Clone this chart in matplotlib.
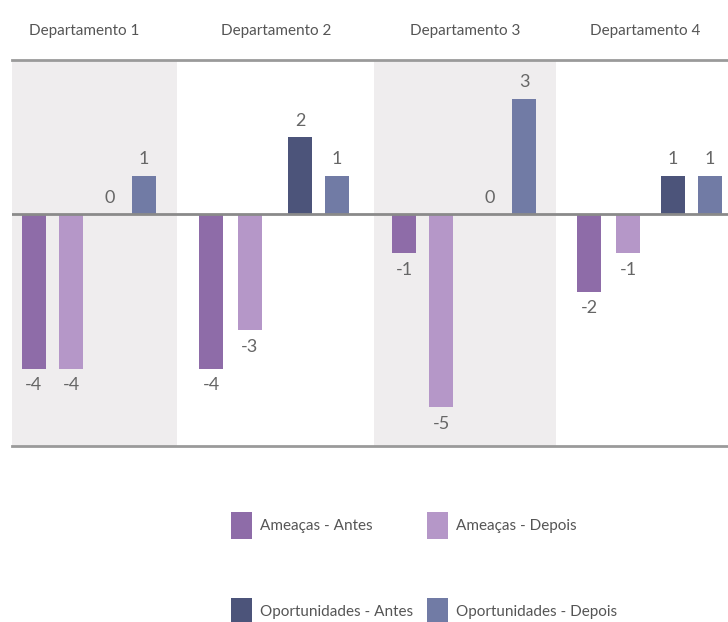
import numpy as np
import matplotlib.pyplot as plt
from matplotlib.patches import Patch

plt.rcParams['font.family'] = ['Lato', 'DejaVu Sans']

# values per department
departments = ['Departamento 1', 'Departamento 2', 'Departamento 3', 'Departamento 4']
series = ['Ameaças - Antes', 'Ameaças - Depois', 'Oportunidades - Antes', 'Oportunidades - Depois']
ameacas_antes = [-4, -4, -1, -2]
ameacas_depois = [-4, -3, -5, -1]
oport_antes = [0, 2, 0, 1]
oport_depois = [1, 1, 3, 1]

colors = ['#8e6ca8', '#b597c8', '#4c547a', '#717ba5']

# layout: panel edges, bar centres and title centres (x in figure pixels)
panel_edges = [12, 177, 374, 556, 728]
bar_x = [[34, 71, 110, 143.5],
         [211, 249.5, 300, 337],
         [404, 441, 490, 524],
         [589, 628, 673, 710]]
title_x = [84, 276, 465, 645]
bar_w = 24

W, H = 728, 622
fig = plt.figure(figsize=(W / 100, H / 100), dpi=100)
ax = fig.add_axes([12 / W, (H - 446) / H, (W - 12) / W, 386 / H])
ax.set_xlim(12, 728)
ax.set_ylim(-6, 4)

for i in range(4):
    if i % 2 == 0:
        ax.axvspan(panel_edges[i], panel_edges[i + 1], color='#efedee', lw=0, zorder=0)

vals = np.array([ameacas_antes, ameacas_depois, oport_antes, oport_depois])
for s in range(4):
    xs = [bar_x[d][s] for d in range(4)]
    ax.bar(xs, vals[s], width=bar_w, color=colors[s], zorder=2)
    for x, v in zip(xs, vals[s]):
        off = -12 if v < 0 else 12
        ax.annotate(str(v), (x, v), xytext=(0, off), textcoords='offset points',
                    ha='center', va='center', fontsize=13, color='#666666')

ax.axhline(0, color='#8a8a8a', lw=2, zorder=3)

for d in range(4):
    ax.annotate(departments[d], (title_x[d], 1), xycoords=('data', 'axes fraction'),
                xytext=(0, 21), textcoords='offset points', ha='center', va='center',
                fontsize=11, color='#555555')

for side in ['left', 'right']:
    ax.spines[side].set_visible(False)
ax.spines['top'].set_color('#9a9a9a')
ax.spines['top'].set_linewidth(2)
ax.spines['bottom'].set_color('#9a9a9a')
ax.spines['bottom'].set_linewidth(2)
ax.set_xticks([])
ax.set_yticks([])

# legend in column order
order = [0, 2, 1, 3]
handles = [Patch(facecolor=colors[k], edgecolor='none') for k in order]
labels = [series[k] for k in order]
fig.legend(handles, labels, loc='upper left', bbox_to_anchor=(231 / W, 1 - 512 / H),
           ncol=2, frameon=False, fontsize=11, labelcolor='#555555',
           handlelength=1.4, handleheight=2.3, handletextpad=0.5,
           labelspacing=3.9, columnspacing=0.9, borderpad=0, borderaxespad=0)

fig.savefig('out.png', dpi=100)
